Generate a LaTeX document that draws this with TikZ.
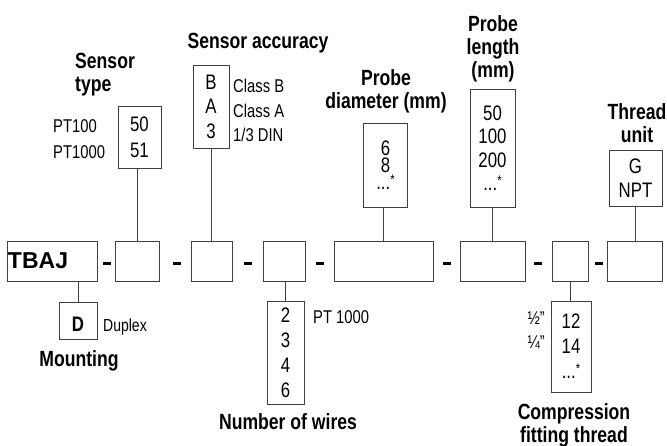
\documentclass[tikz,border=0pt]{standalone}
\usepackage{fontspec}
\setmainfont{Liberation Sans}[FakeStretch=0.8]
\newfontfamily\codefont{Liberation Sans}
\usepackage{tikz}
\usetikzlibrary{positioning}
\usepackage{xcolor}
\definecolor{linegray}{RGB}{64, 64, 64}
\newcommand{\etcmark}{...\raisebox{5pt}{\fontsize{14}{14}\selectfont *}}
\tikzset{
    code box/.style={
        rectangle,
        draw=linegray,
        line width=1pt,
        inner sep=0pt,
        minimum height=40pt,
        align=center
    },
    option box/.style={
        rectangle,
        draw=linegray,
        line width=1pt,
        inner sep=0pt,
        align=center,
        font=\fontsize{21}{25}\selectfont
    },
    heading/.style={
        inner sep=0pt,
        anchor=north,
        align=center,
        font=\fontsize{22}{23}\selectfont\bfseries
    },
    side label/.style={
        inner sep=0pt,
        anchor=north west,
        align=left,
        font=\fontsize{18.5}{24.5}\selectfont
    },
    sep mark/.style={
        rectangle,
        fill=black,
        inner sep=0pt,
        minimum width=8pt,
        minimum height=3.5pt
    },
    link/.style={
        draw=linegray,
        line width=1pt
    }
}

\begin{document}
\begin{tikzpicture}[x=1pt, y=-1pt]
\useasboundingbox (0,0) rectangle (667,445);

% === CODE ROW ===
\node[code box, minimum width=90pt, text width=88pt, align=left,
      font=\codefont\fontsize{23}{23}\selectfont\bfseries] (tbaj) at (52,261) {TBAJ};
\node[code box, minimum width=44pt] (type) at (137,261) {};
\node[code box, minimum width=41pt] (accuracy) at (211.5,261) {};
\node[code box, minimum width=42pt] (wires) at (284,261) {};
\node[code box, minimum width=99pt] (diameter) at (383.5,261) {};
\node[code box, minimum width=65pt] (length) at (492.5,261) {};
\node[code box, minimum width=36pt] (fitting) at (570,261) {};
\node[code box, minimum width=55pt] (unit) at (634.8,261) {};

% Separators
\node[sep mark] (sep1) at (106.7,263.5) {};
\node[sep mark] (sep2) at (176.7,263.5) {};
\node[sep mark] (sep3) at (248.3,263.5) {};
\node[sep mark] (sep4) at (319.5,263.5) {};
\node[sep mark] (sep5) at (446.7,263.5) {};
\node[sep mark] (sep6) at (538.3,263.5) {};
\node[sep mark] (sep7) at (599.3,263.5) {};

% === OPTION BOXES ===
\node[option box, minimum width=43pt, minimum height=62pt,
      font=\fontsize{21}{26}\selectfont] (typeopt) at (139.5,137) {50\\51};
\node[option box, minimum width=36pt, minimum height=83pt,
      font=\fontsize{21}{24.5}\selectfont] (accopt) at (211,106.5) {B\\A\\3};
\node[option box, minimum width=44pt, minimum height=84pt,
      font=\fontsize{21}{17}\selectfont] (diamopt) at (385.5,165) {6\\8\\\etcmark};
\node[option box, minimum width=45pt, minimum height=118pt,
      font=\fontsize{21}{23.5}\selectfont] (lenopt) at (492.5,148) {50\\100\\200\\\etcmark};
\node[option box, minimum width=53pt, minimum height=56pt,
      font=\fontsize{21}{24}\selectfont] (unitopt) at (635.5,178.5) {G\\NPT};
\node[option box, minimum width=38pt, minimum height=37pt, text height=22pt,
      font=\fontsize{21}{25}\selectfont\bfseries] (mountopt) at (78,320.5) {D};
\node[option box, minimum width=37pt, minimum height=103pt] (wiresopt) at (285.5,352.5) {2\\3\\4\\6};
\node[option box, minimum width=40pt, minimum height=91pt] (fitopt) at (571,346.5) {12\\14\\\etcmark};

% Links
\draw[link] (type.north) -- (type.north |- typeopt.south);
\draw[link] (accuracy.north) -- (accuracy.north |- accopt.south);
\draw[link] (diameter.north) -- (diameter.north |- diamopt.south);
\draw[link] (length.north) -- (length.north |- lenopt.south);
\draw[link] (unitopt.south) -- (unitopt.south |- unit.north);
\draw[link] (mountopt.north) -- (mountopt.north |- tbaj.south);
\draw[link] (wiresopt.north) -- (wiresopt.north |- wires.south);
\draw[link] (fitting.south) -- (fitting.south |- fitopt.north);

% === HEADINGS ===
\node[heading, anchor=north west, align=left] (typelabel) at (75,53) {Sensor\\type};
\node[heading] (acclabel) at (258,33) {Sensor accuracy};
\node[heading] (diamlabel) at (386,69) {Probe\\diameter (mm)};
\node[heading] (lenlabel) at (493,15) {Probe\\length\\(mm)};
\node[heading] (unitlabel) at (637,103) {Thread\\unit};
\node[heading] (mountlabel) at (79,350) {Mounting};
\node[heading] (wireslabel) at (288,413) {Number of wires};
\node[heading] (fitlabel) at (574,403) {Compression\\fitting thread};

% === SIDE LABELS ===
\node[side label, font=\fontsize{18.5}{26}\selectfont] (typenames) at (53,119.3) {PT100\\PT1000};
\node[side label] (accnames) at (233,79.3) {Class B\\Class A\\1/3 DIN};
\node[side label, font=\fontsize{17.5}{17.5}\selectfont] (mountname) at (103,318.3) {Duplex};
\node[side label] (wiresname) at (313,310) {PT 1000};
\node[side label, anchor=north east, align=right,
      font=\fontsize{18.5}{24}\selectfont] (fitnames) at (545,311.7) {½"\\¼"};

\end{tikzpicture}
\end{document}
